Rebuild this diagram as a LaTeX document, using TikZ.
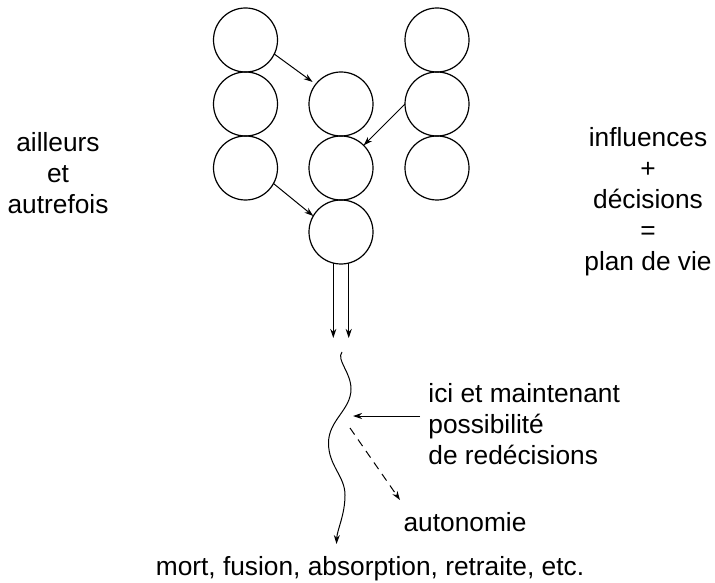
\documentclass[tikz,border=0pt]{standalone}
\usepackage{fontspec}
\setmainfont{Liberation Sans}
\usetikzlibrary{arrows.meta, positioning}

\begin{document}
\begin{tikzpicture}[x=0.5pt, y=-0.5pt,
    rond/.style={circle, draw, line width=0.6pt, minimum size=32pt,
      inner sep=0pt, outer sep=0pt},
    texte/.style={align=center, inner sep=0pt, font=\fontsize{13.15}{15.5}\selectfont},
    fleche/.style={-{Stealth[length=4.5pt, width=3pt]}, line width=0.5pt},
    pointille/.style={fleche, dash pattern=on 4pt off 3pt}
  ]
    \useasboundingbox (0,0) rectangle (715,582);

    % les trois colonnes
    \node[rond] (g1) at (245.5,40) {};
    \node[rond, below=0pt of g1] (g2) {};
    \node[rond, below=0pt of g2] (g3) {};
    \node[rond] (m1) at (341,104) {};
    \node[rond, below=0pt of m1] (m2) {};
    \node[rond, below=0pt of m2] (m3) {};
    \node[rond] (d1) at (437,40) {};
    \node[rond, below=0pt of d1] (d2) {};
    \node[rond, below=0pt of d2] (d3) {};

    \node[texte] (ailleurs) at (58,173) {ailleurs\\et\\autrefois};
    \node[texte] (plan) at (648,202) {influences\\+\\décisions\\=\\plan de vie};
    \node[texte, align=left, anchor=west] (ici) at (428,424)
      {ici et maintenant\\possibilité\\de redécisions};
    \node[texte] (auto) at (465,522) {autonomie};
    \node[texte] (fin) at (370,569) {mort, fusion, absorption, retraite, etc.};

    \coordinate (bout) at (341,338);
    \coordinate (vague) at (353,416);
    \coordinate (depart) at (350,428);
    \coordinate (cible) at (400,500);

    \draw[fleche, shorten >=2pt] (g1.-26) -- (m1.142);
    \draw[fleche] (d2.west) -- (m2.45);
    \draw[fleche] (g3.-29) -- (m3.150);
    \draw[fleche] (m3.-104) -- (m3.-104 |- bout);
    \draw[fleche] (m3.-76) -- (m3.-76 |- bout);

    % la ligne de vie
    \draw[fleche] (342,352) .. controls (336,360) and (351,372) .. (351,389)
      .. controls (351,410) and (328.5,420) .. (328.5,443)
      .. controls (328.5,466) and (345,476) .. (345,495)
      .. controls (345,515) and (337,530) .. (336.5,544);

    \draw[fleche] ([xshift=-4pt, yshift=4pt]ici.west) -- (vague);
    \draw[pointille] (depart) -- (cible);
\end{tikzpicture}
\end{document}
